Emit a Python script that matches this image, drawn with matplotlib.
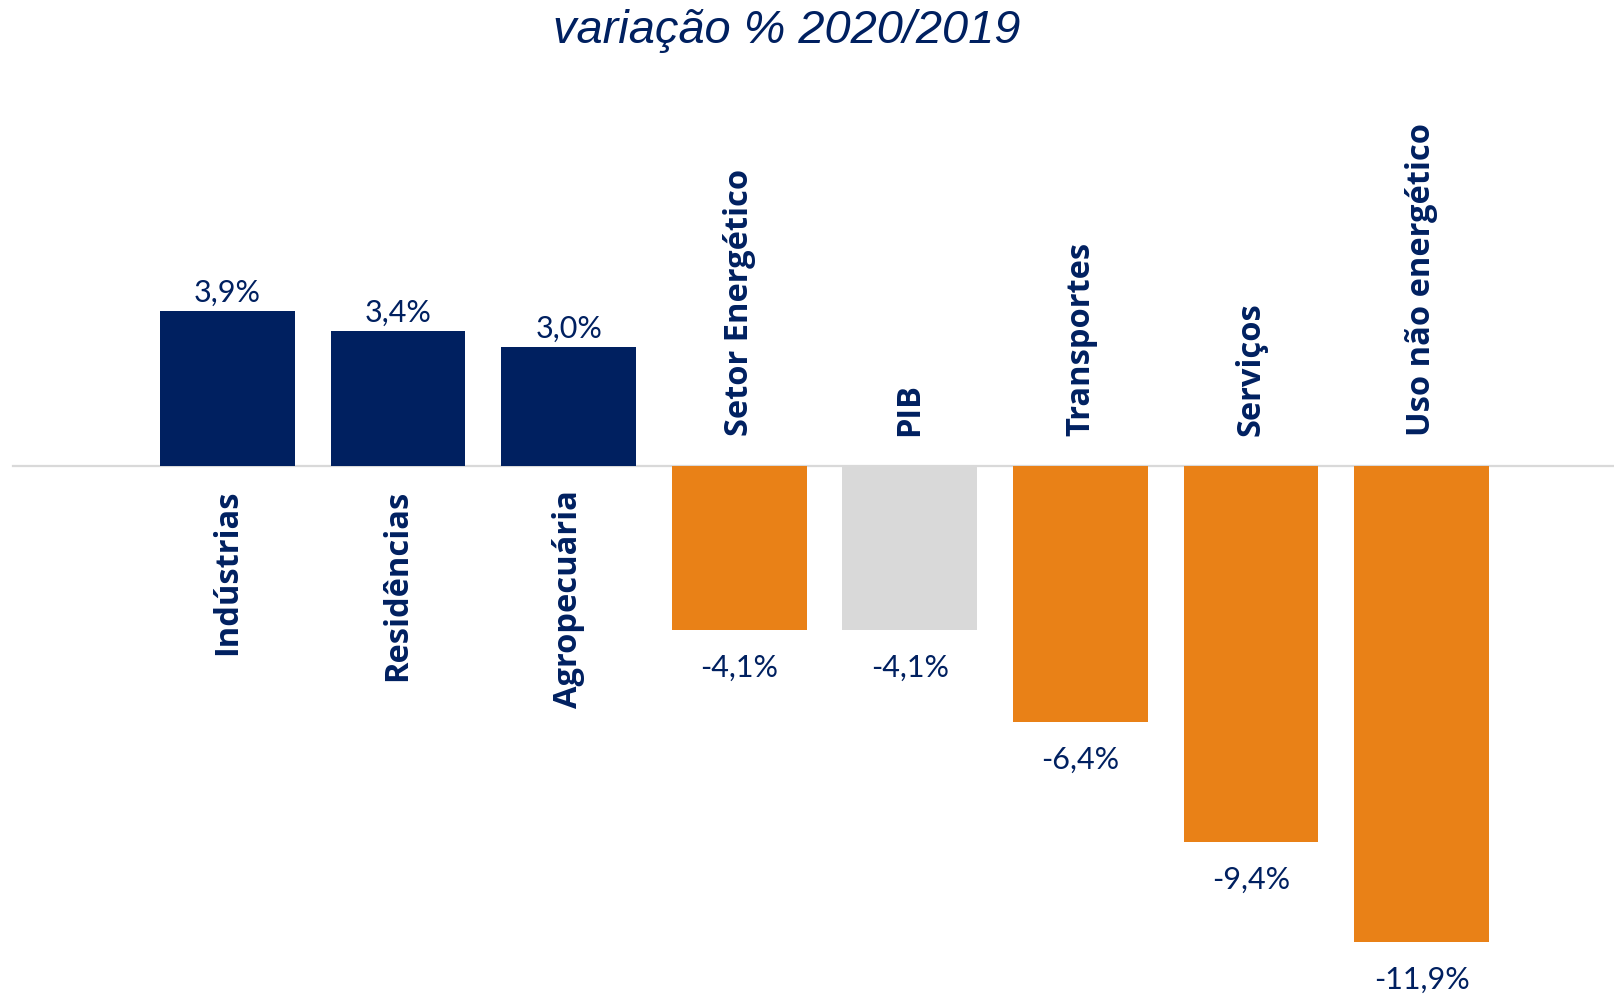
import numpy as np
import matplotlib.pyplot as plt

categories = ["Indústrias", "Residências", "Agropecuária", "Setor Energético",
              "PIB", "Transportes", "Serviços", "Uso não energético"]
values = [3.9, 3.4, 3.0, -4.1, -4.1, -6.4, -9.4, -11.9]
labels = ["3,9%", "3,4%", "3,0%", "-4,1%", "-4,1%", "-6,4%", "-9,4%", "-11,9%"]
colors = ["#002060", "#002060", "#002060", "#E98117",
          "#D9D9D9", "#E98117", "#E98117", "#E98117"]

navy = "#002060"

fig = plt.figure(figsize=(16.14, 9.94), dpi=100)
ax = fig.add_axes([0, 0, 1, 1])

x = np.arange(len(categories))
ax.bar(x, values, width=0.79, color=colors, zorder=2)
ax.axhline(0, xmin=0.008, xmax=1, color="#D9D9D9", lw=1.6, zorder=1)

ax.set_xlim(-1.333, 8.127)
ax.set_ylim(-13.21, 11.675)
ax.axis("off")

for i, v in enumerate(values):
    if v >= 0:
        ax.annotate(labels[i], (i, v), xytext=(0, 3), textcoords="offset points",
                    ha="center", va="bottom", fontsize=22, family="Lato", color=navy)
        ax.annotate(categories[i], (i, 0), xytext=(0, -17), textcoords="offset points",
                    ha="center", va="top", rotation=90, fontsize=23.5,
                    family="Open Sans", fontweight="bold", color=navy)
    else:
        ax.annotate(labels[i], (i, v), xytext=(0, -17), textcoords="offset points",
                    ha="center", va="top", fontsize=22, family="Lato", color=navy)
        ax.annotate(categories[i], (i, 0), xytext=(0, 22), textcoords="offset points",
                    ha="center", va="bottom", rotation=90, fontsize=23.5,
                    family="Open Sans", fontweight="bold", color=navy)

fig.text(787 / 1614, 1 - 31 / 994, "variação % 2020/2019", ha="center", va="center",
         fontsize=33.8, family="Liberation Sans", style="italic", color=navy)

fig.savefig("out.png", dpi=100)
